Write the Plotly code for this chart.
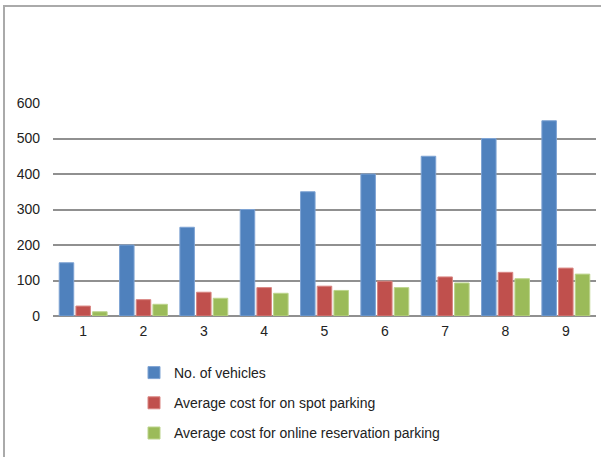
import plotly.graph_objects as go

categories = ["1", "2", "3", "4", "5", "6", "7", "8", "9"]
vehicles = [150, 200, 250, 300, 350, 400, 450, 500, 550]
onspot_cost = [28, 46, 67, 80, 84, 98, 110, 123, 135]
online_cost = [12, 33, 50, 64, 72, 80, 93, 105, 118]
y_ticks = [0, 100, 200, 300, 400, 500, 600]

W, H = 601, 457
L, R, T, B = 53, 5, 103, 141
pw, ph = W - L - R, H - T - B

def px_x(x):
    return (x - L) / pw

def px_y(y):
    return (H - B - y) / ph

font = "Liberation Sans, Arial, sans-serif"

fig = go.Figure()
series = [
    ("No. of vehicles", vehicles, "#4F81BD", "#7EA3D3"),
    ("Average cost for on spot parking", onspot_cost, "#C0504D", "#D98582"),
    ("Average cost for online reservation parking", online_cost, "#9BBB59", "#BCD48C"),
]
for i, (name, vals, col, edge) in enumerate(series):
    fig.add_trace(go.Bar(
        x=categories, y=vals, name=name, legendgroup=f"g{i}",
        marker=dict(color=col, line=dict(color=edge, width=1)),
    ))

fig.update_layout(
    width=W, height=H,
    margin=dict(l=L, r=R, t=T, b=B),
    paper_bgcolor="white", plot_bgcolor="white",
    barmode="group", bargap=0.17, bargroupgap=0.13,
    font=dict(family=font, size=14, color="#222222"),
    showlegend=True,
    legend=dict(
        x=px_x(134), y=px_y(357), xanchor="left", yanchor="top",
        traceorder="grouped", tracegroupgap=9,
        font=dict(family=font, size=14, color="#222222"),
        bgcolor="rgba(0,0,0,0)",
    ),
    xaxis=dict(
        type="category", showgrid=False, showline=False, zeroline=False,
        ticks="", tickfont=dict(size=14), ticklabelstandoff=5,
    ),
    yaxis=dict(
        range=[0, 600], tickvals=y_ticks, showgrid=True,
        gridcolor="#909090", gridwidth=1.5, zeroline=True,
        zerolinecolor="#909090", zerolinewidth=1.5, showline=False,
        ticks="", tickfont=dict(size=14), ticklabelstandoff=12,
    ),
    shapes=[
        dict(type="line", xref="paper", yref="paper",
             x0=px_x(4), x1=px_x(4), y0=px_y(5), y1=px_y(457),
             line=dict(color="#AAAAAA", width=2)),
        dict(type="line", xref="paper", yref="paper",
             x0=px_x(3), x1=px_x(601), y0=px_y(6), y1=px_y(6),
             line=dict(color="#AAAAAA", width=2)),
    ],
)

fig.write_html(
    "out.html",
    config={"displayModeBar": False},
    post_script="document.body.style.margin='0';document.body.style.overflow='hidden';",
)
